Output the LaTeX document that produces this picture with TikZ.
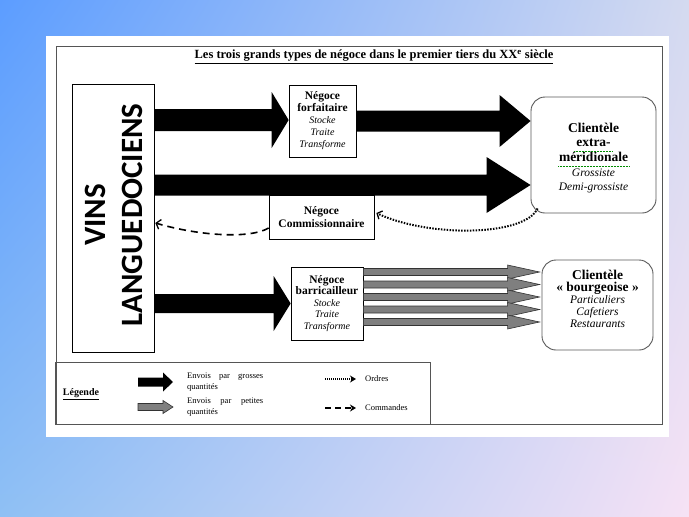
\documentclass[tikz,border=0pt]{standalone}
\usepackage{fontspec}
\setmainfont{Liberation Serif}
\newfontfamily\vinsfont{Carlito}
\usetikzlibrary{calc,arrows.meta,shadings}
\definecolor{bgTL}{HTML}{5C9DFF}
\definecolor{bgTR}{HTML}{D4DAF0}
\definecolor{bgBL}{HTML}{8FC0F4}
\definecolor{bgBR}{HTML}{F6E2F5}
\definecolor{greyfill}{HTML}{7F7F7F}
\definecolor{frameC}{HTML}{555555}
\newcommand\fatarr[6]{%
  \path[#1] ($(#2)+(0,-#4)$) -- ($(#3)+(-#6,-#4)$) -- ($(#3)+(-#6,-#5)$) -- (#3)
    -- ($(#3)+(-#6,#5)$) -- ($(#3)+(-#6,#4)$) -- ($(#2)+(0,#4)$) -- cycle;}
\newcommand\Bl[1]{{\fontsize{11.5}{12}\selectfont\bfseries #1}}
\newcommand\Il[1]{{\fontsize{10}{12}\selectfont\itshape #1}}
\newcommand\BL[1]{{\fontsize{13.5}{14.7}\selectfont\bfseries #1}}
\newcommand\IL[1]{{\fontsize{11.5}{14.7}\selectfont\itshape #1}}
\begin{document}
\begin{tikzpicture}[x=1pt,y=-1pt,
  box/.style={draw=black, line width=0.7pt, fill=white, inner sep=0pt, align=center},
  rbox/.style={draw=black!65, line width=0.9pt, fill=white, rounded corners=14pt, inner sep=0pt, align=center},
  bigarrow/.style={fill=black},
  smallarrow/.style={fill=greyfill, draw=black!80, line width=0.6pt},
  dotarrow/.style={line width=2pt, dash pattern=on 1.5pt off 1.4pt, -{Straight Barb[length=4pt,width=9pt,line width=1.3pt]}},
  dasharrow/.style={line width=1.6pt, dash pattern=on 7pt off 5pt, -{Straight Barb[length=4pt,width=10pt,line width=1.3pt]}},
  legtext/.style={font=\fontsize{8.5}{11}\selectfont, anchor=west, align=left, inner sep=0pt}]
\useasboundingbox (0,0) rectangle (689,517);
\shade[upper left=bgTL, upper right=bgTR, lower left=bgBL, lower right=bgBR] (0,0) rectangle (689,517);
\fill[white] (46,36) rectangle (669,437);
\draw[frameC, line width=0.9pt] (56,46) rectangle (662,424);
% title
\node (title) at (374,57) {\fontsize{12.5}{14}\selectfont\bfseries\underline{Les trois grands types de négoce dans le premier tiers du XX\textsuperscript{e} siècle}};
% nodes
\node[box, minimum width=82pt, minimum height=268pt] (vins) at (113,218) {};
\node[rotate=90, align=center, font=\vinsfont\fontsize{31}{37}\selectfont\bfseries] (vinstxt) at (114,215) {VINS\\LANGUEDOCIENS};
\node[box, minimum width=67pt, minimum height=72pt, font=\fontsize{10}{12}\selectfont] (forf) at (322.5,121)
  {\Bl{Négoce}\\\Bl{forfaitaire}\\\Il{Stocke}\\\Il{Traite}\\\Il{Transforme}};
\node[box, minimum width=105pt, minimum height=44pt, font=\fontsize{10}{13}\selectfont] (comm) at (321.5,217)
  {\Bl{Négoce}\\\Bl{Commissionnaire}};
\node[box, minimum width=72pt, minimum height=73pt, font=\fontsize{10}{11.5}\selectfont] (barr) at (327,303.5)
  {\Bl{Négoce}\\\Bl{barricailleur}\\\Il{Stocke}\\\Il{Traite}\\\Il{Transforme}};
\node[rbox, minimum width=125pt, minimum height=116pt] (cext) at (593.5,155) {};
\node[align=center, inner sep=0pt, font=\fontsize{11.5}{14.7}\selectfont] (cexttxt) at (593.5,158)
  {\BL{Clientèle}\\\BL{extra-}\\\BL{méridionale}\\\IL{Grossiste}\\\IL{Demi-grossiste}};
\node[rbox, minimum width=111pt, minimum height=90pt] (cbour) at (597.5,305) {};
\node[align=center, inner sep=0pt, font=\fontsize{11.5}{12}\selectfont] (cbourtxt) at (597.5,299)
  {\BL{Clientèle}\\\BL{« bourgeoise »}\\\IL{Particuliers}\\\IL{Cafetiers}\\\IL{Restaurants}};
% spelling marks
\draw[green!55!black, line width=0.5pt, densely dotted] (574,151) -- (613,151);
\draw[green!55!black, line width=0.5pt, densely dotted] (558,166) -- (629,166);
% big arrows
\coordinate (a1s) at ([yshift=1pt]vins.east |- forf.west);
\coordinate (a1e) at ([yshift=1pt]forf.west);
\fatarr{bigarrow}{a1s}{a1e}{11}{28}{17}
\coordinate (a2e) at (cext.west |- forf.east);
\fatarr{bigarrow}{forf.east}{a2e}{10.5}{26}{31}
\coordinate (a3s) at ([yshift=33pt]vins.east);
\coordinate (a3e) at (cext.west |- a3s);
\fatarr{bigarrow}{a3s}{a3e}{10.5}{28}{44}
\coordinate (a4s) at (vins.east |- barr.west);
\fatarr{bigarrow}{a4s}{barr.west}{9.5}{27.5}{17}
% grey arrows
\foreach \yy [count=\i] in {272,284.5,297,309.5,322}{
  \coordinate (g\i s) at (barr.east |- 0,\yy);
  \coordinate (g\i e) at ([xshift=-2pt]cbour.west |- 0,\yy);
  \fatarr{smallarrow}{g\i s}{g\i e}{3.5}{7}{32}
}
% orders and commands
\coordinate (dotS) at ([shift={(7pt,5pt)}]cext.south west);
\coordinate (dotE) at ([shift={(2pt,4pt)}]comm.east);
\draw[dotarrow] (dotS) .. controls (525,236) and (430,238) .. (dotE);
\coordinate (dashS) at ([yshift=-11pt]comm.west);
\coordinate (dashE) at ([shift={(1pt,-5pt)}]vins.east);
\draw[dasharrow] (dashS) .. controls (250,239) and (200,236) .. (dashE);
% legend
\node[draw=frameC, line width=0.9pt, minimum width=375pt, minimum height=62pt, inner sep=0pt] (leg) at (242.5,393) {};
\node[font=\fontsize{10}{12}\selectfont\bfseries] (legt) at (81,394) {\underline{Légende}};
\fatarr{bigarrow}{138,382}{173,382}{4.5}{9.5}{10}
\fatarr{smallarrow}{138,407}{173,407}{3.5}{6.5}{10}
\node[legtext] (l1) at (187,382.5) {\makebox[76pt][s]{Envois par grosses}\\quantités};
\node[legtext] (l2) at (187,407) {\makebox[76pt][s]{Envois par petites}\\quantités};
\coordinate (o1) at (325,379); \coordinate (o2) at (356,379);
\draw[line width=1.3pt, dash pattern=on 1pt off 1pt, -{Stealth[length=6pt,width=7pt]}] (o1) -- (o2);
\coordinate (c1) at (325,408); \coordinate (c2) at (356,408);
\draw[line width=1.4pt, dash pattern=on 6pt off 4pt, -{Stealth[length=6pt,width=7pt]}] (c1) -- (c2);
\node[legtext] (l3) at (365,379) {Ordres};
\node[legtext] (l4) at (365,408) {Commandes};
\end{tikzpicture}
\end{document}
